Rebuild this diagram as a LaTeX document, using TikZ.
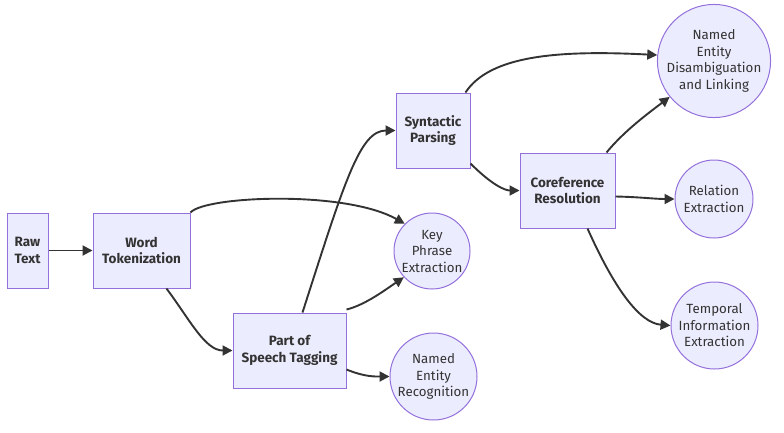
\documentclass[tikz,border=0pt]{standalone}
\usepackage{fontspec}
\setmainfont{Fira Sans}
\usetikzlibrary{arrows.meta,calc}
\definecolor{nfill}{HTML}{ECECFF}
\definecolor{nline}{HTML}{9370DB}
\definecolor{ink}{HTML}{333333}
\tikzset{
  box/.style={draw=nline,fill=nfill,line width=1pt,rectangle,inner sep=0pt,align=center,text=ink,
     font=\fontsize{13.5}{16.8}\selectfont\bfseries,minimum height=75pt},
  circ/.style={draw=nline,fill=nfill,line width=1pt,circle,inner sep=0pt,align=center,text=ink,
     font=\fontsize{13.3}{16.5}\selectfont},
  arr/.style={draw=ink,line width=1.9pt,-{Triangle[length=10pt,width=10pt]}},
}
\begin{document}
\begin{tikzpicture}[x=1pt,y=-1pt]
\useasboundingbox (0,0) rectangle (784,432);
\node[box,minimum width=41pt] (raw) at (27.5,250.5) {Raw\\Text};
\node[box,minimum width=97pt] (word) at (141.5,250.5) {Word\\Tokenization};
\node[box,minimum width=113pt] (pos) at (289.5,350.5) {Part of\\Speech Tagging};
\node[box,minimum width=74pt] (syn) at (433,130.5) {Syntactic\\Parsing};
\node[box,minimum width=95pt] (coref) at (567.5,190.5) {Coreference\\Resolution};
\node[circ,minimum size=76pt] (key) at (432,251) {Key\\Phrase\\Extraction};
\node[circ,minimum size=87pt] (ner) at (433.5,376.5) {Named\\Entity\\Recognition};
\node[circ,minimum size=110pt] (ned) at (714,61) {Named\\Entity\\Disambiguation\\and Linking};
\node[circ,minimum size=78pt] (rel) at (714,199) {Relation\\Extraction};
\node[circ,minimum size=87pt] (temp) at (714.5,325.5) {Temporal\\Information\\Extraction};

\draw[arr] (raw) -- (word);
\draw[arr] (word.north east) .. controls (205,196) and (345,190) .. (key.135);
\draw[arr] ([xshift=25pt]word.south) .. controls (190,320) and (205,350.5) .. (pos.west);
\draw[arr] ([xshift=13pt]pos.north) .. controls (345,180) and (360,130.5) .. (syn.west);
\draw[arr] ([yshift=3pt]pos.north east) .. controls (365,305) and (385,290) .. (key.223);
\draw[arr] ([yshift=-19pt]pos.east) .. controls (365,377) and (375,376.5) .. (ner.west);
\draw[arr] ([xshift=-5pt]syn.north east) .. controls (490,55) and (560,50) .. (ned.174);
\draw[arr] ([yshift=5pt]syn.south east) .. controls (492,185) and (505,190.5) .. (coref.west);
\draw[arr] ([xshift=-9pt]coref.north east) .. controls (625,130) and (650,112) .. (ned.219);
\draw[arr] ([yshift=-6pt]coref.east) .. controls (640,197) and (655,199) .. (rel.west);
\draw[arr] ([xshift=20pt]coref.south) .. controls (615,290) and (640,323) .. (temp.west);
\end{tikzpicture}
\end{document}
